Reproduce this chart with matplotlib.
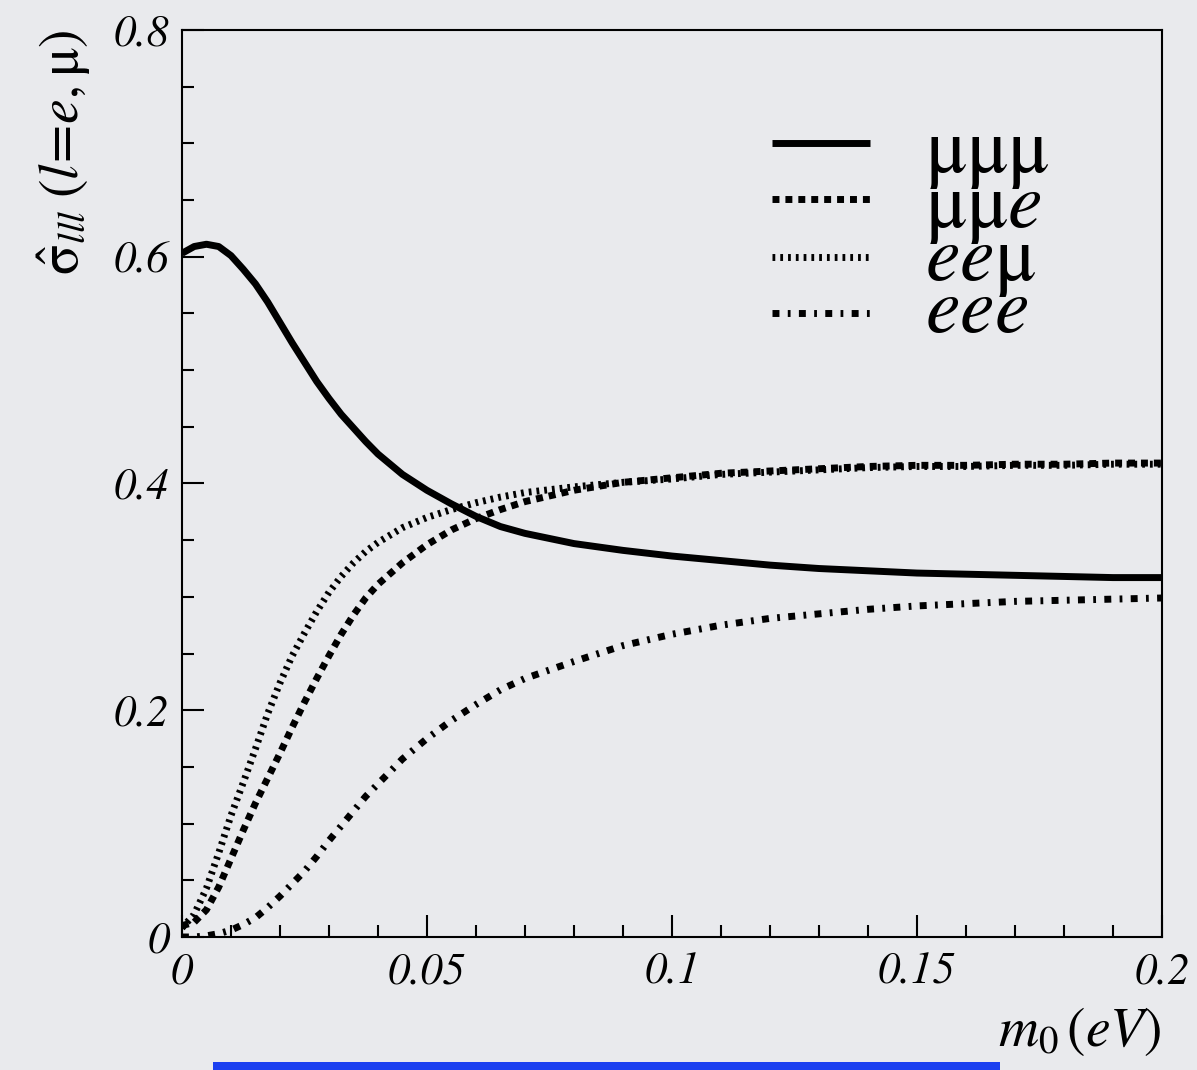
import matplotlib
matplotlib.use('Agg')
import matplotlib.pyplot as plt
from matplotlib.patches import Rectangle
from matplotlib.ticker import MultipleLocator

plt.rcParams['font.family'] = ['STIXGeneral', 'Liberation Serif', 'DejaVu Serif']
plt.rcParams['mathtext.fontset'] = 'stix'
plt.rcParams['lines.scale_dashes'] = False

# m0 (eV)
m0 = [0, 0.0025, 0.005, 0.0075, 0.01, 0.0125, 0.015, 0.0175, 0.02, 0.0225,
      0.025, 0.0275, 0.03, 0.0325, 0.035, 0.0375, 0.04, 0.045, 0.05, 0.055,
      0.06, 0.065, 0.07, 0.08, 0.09, 0.1, 0.11, 0.12, 0.13, 0.14,
      0.15, 0.16, 0.17, 0.18, 0.19, 0.2]

mumumu = [0.603, 0.609, 0.611, 0.609, 0.601, 0.589, 0.576, 0.560, 0.542, 0.524,
          0.507, 0.490, 0.475, 0.461, 0.449, 0.437, 0.426, 0.408, 0.394, 0.382,
          0.371, 0.362, 0.356, 0.347, 0.341, 0.336, 0.332, 0.328, 0.325, 0.323,
          0.321, 0.320, 0.319, 0.318, 0.317, 0.317]

mumue = [0.010, 0.013, 0.024, 0.044, 0.069, 0.094, 0.118, 0.140, 0.162, 0.185,
         0.207, 0.228, 0.248, 0.267, 0.284, 0.299, 0.311, 0.330, 0.346, 0.359,
         0.369, 0.377, 0.384, 0.394, 0.401, 0.405, 0.409, 0.411, 0.413, 0.415,
         0.416, 0.416, 0.417, 0.417, 0.418, 0.418]

eemu = [0.008, 0.020, 0.043, 0.074, 0.107, 0.136, 0.166, 0.197, 0.224, 0.248,
        0.268, 0.287, 0.304, 0.318, 0.330, 0.340, 0.348, 0.361, 0.370, 0.377,
        0.383, 0.388, 0.392, 0.397, 0.401, 0.404, 0.408, 0.410, 0.412, 0.414,
        0.415, 0.415, 0.416, 0.416, 0.417, 0.417]

eee = [0.000, 0.000, 0.001, 0.003, 0.006, 0.011, 0.017, 0.026, 0.036, 0.047,
       0.058, 0.071, 0.085, 0.098, 0.111, 0.124, 0.135, 0.157, 0.175, 0.191,
       0.205, 0.218, 0.228, 0.243, 0.257, 0.267, 0.275, 0.281, 0.285, 0.289,
       0.292, 0.294, 0.296, 0.297, 0.298, 0.299]

labels = [r'$\mathrm{\mu\mu\mu}$', r'$\mathrm{\mu\mu}e$', r'$ee\mathrm{\mu}$', r'$eee$']
xticks = [0, 0.05, 0.1, 0.15, 0.2]
xticklabels = ['0', '0.05', '0.1', '0.15', '0.2']
yticks = [0, 0.2, 0.4, 0.6, 0.8]
yticklabels = ['0', '0.2', '0.4', '0.6', '0.8']

bg = '#e9eaed'
lw = 5.0
styles = [
    dict(linestyle='-'),
    dict(linestyle=(0, (5.0, 4.3))),
    dict(linestyle=(0, (2.0, 3.6))),
    dict(linestyle=(0, (5.0, 6.0, 2.0, 6.0))),
]

fig = plt.figure(figsize=(11.97, 10.70), dpi=100, facecolor=bg)
ax = fig.add_axes([0.152, 0.1243, 0.8187, 0.8477])
ax.set_facecolor(bg)

series = [mumumu, mumue, eemu, eee]
order = [0, 2, 1, 3]
for i in order:
    ax.plot(m0, series[i], color='black', linewidth=lw, dash_capstyle='butt',
            solid_capstyle='butt', **styles[i])

ax.set_xlim(0, 0.2)
ax.set_ylim(0, 0.8)
ax.set_xticks(xticks)
ax.set_xticklabels(xticklabels, fontsize=32, fontstyle='italic')
ax.set_yticks(yticks)
ax.set_yticklabels(yticklabels, fontsize=32, fontstyle='italic')
ax.xaxis.set_minor_locator(MultipleLocator(0.01))
ax.yaxis.set_minor_locator(MultipleLocator(0.05))
ax.tick_params(which='both', direction='in', width=1.5, top=False, right=False)
ax.tick_params(which='major', length=16)
ax.tick_params(which='minor', length=8.5)
ax.tick_params(axis='x', which='major', pad=11)
ax.tick_params(axis='y', which='major', pad=9)
for sp in ax.spines.values():
    sp.set_linewidth(1.5)

ax.set_xlabel(r'$m_{\mathit{0}}\,\mathit{(eV)}$', fontsize=40, loc='right', labelpad=9)
ax.set_ylabel(r'$\hat{\mathrm{\sigma}}_{lll}\;\mathit{(l\!=\!e,}\mathrm{\mu}\mathit{)}$',
              fontsize=40, loc='top', labelpad=15)

# legend drawn by hand (entries overlap as in the original)
line_y = [0.875, 0.814, 0.750, 0.688]
text_y = [0.843, 0.783, 0.724, 0.667]
for i in range(4):
    ax.plot([0.602, 0.702], [line_y[i], line_y[i]], transform=ax.transAxes,
            color='black', linewidth=lw, dash_capstyle='butt',
            solid_capstyle='butt', clip_on=False, **styles[i])
    ax.text(0.758, text_y[i], labels[i], transform=ax.transAxes,
            fontsize=56, va='baseline', ha='left')

fig.add_artist(Rectangle((213 / 1197, 0), (1000 - 213) / 1197, 8 / 1070,
                         transform=fig.transFigure, color='#1b40f0', lw=0))

fig.savefig('out.png', dpi=100, facecolor=bg)
